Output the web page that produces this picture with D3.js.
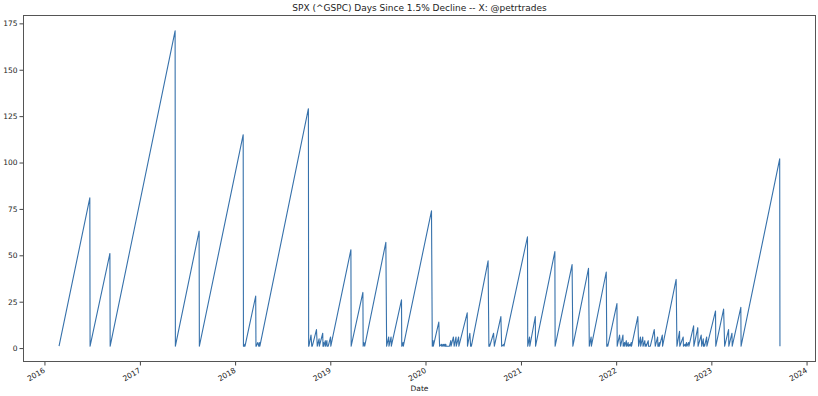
<!DOCTYPE html>
<html>
<head>
<meta charset="utf-8">
<script src="https://cdn.jsdelivr.net/npm/d3@7"></script>
<style>
body { margin: 0; background: #fff; }
svg { display: block; font-family: "DejaVu Sans", sans-serif; }
</style>
</head>
<body>
<svg></svg>
<script>
// trading days since the last 1.5% down day (vertices of the sawtooth)
var dates = [
  '2016-02-26','2016-06-23','2016-06-24','2016-09-08','2016-09-09','2017-05-16','2017-05-17','2017-08-16','2017-08-17',
  '2018-02-01','2018-02-02','2018-02-05','2018-02-07','2018-02-08','2018-03-21','2018-03-22','2018-03-23','2018-03-29',
  '2018-04-02','2018-04-05','2018-04-06','2018-10-09','2018-10-10','2018-10-11','2018-10-19','2018-10-22','2018-10-23',
  '2018-10-24','2018-11-09','2018-11-12','2018-11-19','2018-11-20','2018-12-03','2018-12-04','2018-12-06','2018-12-07',
  '2018-12-13','2018-12-14','2018-12-19','2018-12-20','2018-12-24','2019-01-02','2019-01-03','2019-03-21','2019-03-22',
  '2019-05-06','2019-05-07','2019-05-10','2019-05-13','2019-08-02','2019-08-05','2019-08-13','2019-08-14','2019-08-22',
  '2019-08-23','2019-10-01','2019-10-02','2019-10-07','2019-10-08','2020-01-24','2020-01-27','2020-01-30','2020-01-31',
  '2020-02-21','2020-02-24','2020-03-02','2020-03-03','2020-03-04','2020-03-05','2020-03-10','2020-03-11','2020-03-13',
  '2020-03-16','2020-03-17','2020-03-18','2020-03-19','2020-03-20','2020-03-23','2020-04-01','2020-04-02','2020-04-07',
  '2020-04-08','2020-04-17','2020-04-20','2020-04-27','2020-04-28','2020-05-07','2020-05-08','2020-06-09','2020-06-10',
  '2020-06-19','2020-06-22','2020-06-24','2020-06-25','2020-08-28','2020-08-31','2020-09-02','2020-09-03','2020-09-18',
  '2020-09-21','2020-10-16','2020-10-19','2020-10-27','2020-10-28','2021-01-26','2021-01-27','2021-02-03','2021-02-04',
  '2021-02-25','2021-02-26','2021-05-11','2021-05-12','2021-07-16','2021-07-19','2021-09-17','2021-09-20','2021-09-27',
  '2021-09-28','2021-11-24','2021-11-26','2021-11-29','2021-11-30','2022-01-04','2022-01-05','2022-01-14','2022-01-18',
  '2022-01-27','2022-01-28','2022-02-02','2022-02-03','2022-02-09','2022-02-10','2022-02-11','2022-02-16','2022-02-17',
  '2022-02-22','2022-02-23','2022-02-28','2022-03-01','2022-03-25','2022-03-28','2022-04-04','2022-04-05','2022-04-13',
  '2022-04-14','2022-04-21','2022-04-22','2022-04-25','2022-04-26','2022-05-04','2022-05-05','2022-05-09','2022-05-12',
  '2022-05-27','2022-05-31','2022-06-09','2022-06-10','2022-06-13','2022-06-15','2022-06-16','2022-06-27','2022-06-28',
  '2022-08-19','2022-08-22','2022-09-01','2022-09-02','2022-09-15','2022-09-16','2022-09-22','2022-09-23','2022-09-28',
  '2022-09-29','2022-10-06','2022-10-07','2022-10-25','2022-10-26','2022-11-10','2022-11-11','2022-11-23','2022-11-25',
  '2022-12-01','2022-12-02','2022-12-05','2022-12-06','2022-12-14','2022-12-15','2023-01-17','2023-01-18','2023-02-17',
  '2023-02-21','2023-03-08','2023-03-09','2023-03-21','2023-03-22','2023-04-24','2023-04-25','2023-09-20','2023-09-21'
]
var daysSince = [
  1, 81, 1, 51, 1, 171, 1, 63, 1,
  115, 1, 1, 2, 1, 28, 1, 1, 3,
  1, 3, 1, 129, 1, 1, 7, 1, 2,
  1, 10, 1, 5, 1, 8, 1, 3, 1,
  4, 1, 4, 1, 1, 6, 1, 53, 1,
  30, 1, 3, 1, 57, 1, 6, 1, 6,
  1, 26, 1, 3, 1, 74, 1, 4, 1,
  14, 1, 2, 1, 2, 1, 2, 1, 2,
  1, 2, 1, 2, 1, 1, 1, 1, 4,
  1, 6, 1, 6, 1, 6, 1, 19, 1,
  8, 1, 2, 1, 47, 1, 2, 1, 8,
  1, 17, 1, 2, 1, 60, 1, 6, 1,
  17, 1, 52, 1, 45, 1, 43, 1, 6,
  1, 41, 1, 2, 1, 24, 1, 7, 1,
  7, 1, 3, 1, 4, 1, 1, 3, 1,
  2, 1, 3, 1, 17, 1, 6, 1, 6,
  1, 4, 1, 2, 1, 4, 1, 1, 1,
  10, 1, 6, 1, 1, 3, 1, 7, 1,
  37, 1, 9, 1, 6, 1, 2, 1, 3,
  1, 3, 1, 12, 1, 11, 1, 7, 1,
  5, 1, 2, 1, 6, 1, 20, 1, 21,
  1, 10, 1, 8, 1, 22, 1, 102, 1
]
var yTicks = [0, 25, 50, 75, 100, 125, 150, 175]
var yearTicks = ['2016', '2017', '2018', '2019', '2020', '2021', '2022', '2023', '2024']
var title = 'SPX (^GSPC) Days Since 1.5% Decline -- X: @petrtrades'
var xLabel = 'Date'

var width = 818
var height = 396
var margin = {top: 15, right: 2, bottom: 34, left: 23}

var parse = d3.timeParse('%Y-%m-%d')
var data = dates.map((d, i) => ({date: parse(d), value: daysSince[i]}))

var svg = d3.select('svg')
            .attr('width', width)
            .attr('height', height)

svg.append('rect').attr('width', width).attr('height', height).attr('fill', '#fff')

// matplotlib style 5% margins on both axes
var ext = d3.extent(data, d => d.date)
var pad = (ext[1] - ext[0]) * 0.05
var xScale = d3.scaleTime()
            .domain([new Date(+ext[0] - pad), new Date(+ext[1] + pad)])
            .range([margin.left, width - margin.right])

var vmin = d3.min(daysSince), vmax = d3.max(daysSince)
var vpad = (vmax - vmin) * 0.05
var yScale = d3.scaleLinear()
            .domain([vmin - vpad, vmax + vpad])
            .range([height - margin.bottom, margin.top])

var yGuide = svg.append('g')
            .attr('transform', `translate(${margin.left},0)`)
            .call(d3.axisLeft(yScale).tickValues(yTicks).tickSize(3.5).tickPadding(2))
yGuide.select('.domain').remove()
yGuide.selectAll('line').attr('stroke', '#444')
yGuide.selectAll('text').style('font-size', '7.5px').attr('fill', '#222').style('font-family', '"DejaVu Sans", sans-serif')

var xGuide = svg.append('g')
            .attr('transform', `translate(0,${height - margin.bottom})`)
            .call(d3.axisBottom(xScale)
                .tickValues(yearTicks.map(y => parse(y + '-01-01')))
                .tickFormat(d3.timeFormat('%Y'))
                .tickSize(3.5))
xGuide.select('.domain').remove()
xGuide.selectAll('line').attr('stroke', '#444')
xGuide.selectAll('text')
            .attr('x', 0)
            .attr('y', 0)
            .attr('dy', '0.75em')
            .attr('text-anchor', 'end')
            .attr('transform', 'translate(-2,5) rotate(-30)')
            .style('font-size', '7.5px')
            .attr('fill', '#222')
            .style('font-family', '"DejaVu Sans", sans-serif')

var line = d3.line()
            .x(d => xScale(d.date))
            .y(d => yScale(d.value))

svg.append('path')
            .attr('d', line(data))
            .attr('fill', 'none')
            .attr('stroke', '#3671ab')
            .attr('stroke-width', 1.1)
            .attr('stroke-linejoin', 'round')

// axes frame
svg.append('rect')
            .attr('x', margin.left + 0.5)
            .attr('y', margin.top + 0.5)
            .attr('width', width - margin.left - margin.right - 1)
            .attr('height', height - margin.top - margin.bottom - 1)
            .attr('fill', 'none')
            .attr('stroke', '#555')
            .attr('stroke-width', 1)

svg.append('text')
            .attr('x', (margin.left + width - margin.right) / 2)
            .attr('y', 11)
            .attr('text-anchor', 'middle')
            .style('font-size', '9px')
            .attr('fill', '#222')
            .text(title)

svg.append('text')
            .attr('x', (margin.left + width - margin.right) / 2)
            .attr('y', 391)
            .attr('text-anchor', 'middle')
            .style('font-size', '7.5px')
            .attr('fill', '#222')
            .text(xLabel)
</script>
</body>
</html>
